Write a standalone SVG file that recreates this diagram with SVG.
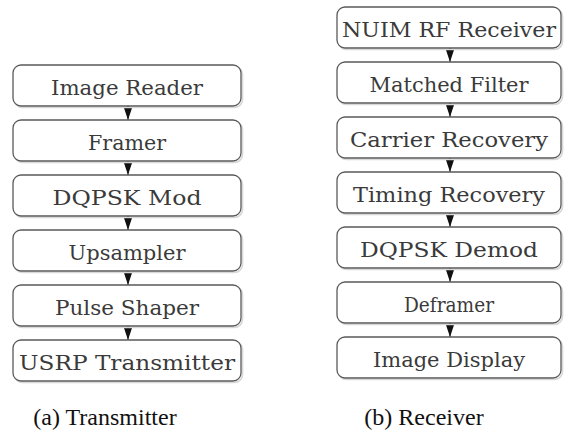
<svg xmlns="http://www.w3.org/2000/svg" width="566" height="437" viewBox="0 0 566 437">
<style>
.box{fill:#fff;stroke:#5a5a5a;stroke-width:1.3}
.sh{fill:none;stroke:#d8d8d8;stroke-width:1.6}
.lbl{font-family:"DejaVu Serif","Liberation Serif","Noto Serif",serif;font-size:20px;fill:#3a3a3a;text-anchor:middle}
.cap{font-family:"Liberation Serif","Times New Roman","DejaVu Serif",serif;font-size:24px;fill:#111;text-anchor:middle}
.con{stroke:#222;stroke-width:1;fill:none;marker-end:url(#ah)}
</style>
<defs>
<marker id="ah" viewBox="0 0 12 8" refX="12" refY="4" markerWidth="12" markerHeight="8" markerUnits="userSpaceOnUse" orient="auto">
<path d="M0,0 L12,4 L0,8 Z" fill="#111"/>
</marker>
</defs>
<rect width="566" height="437" fill="#fff"/>
<g id="connectors">
<line class="con" x1="128" y1="106" x2="128" y2="120"/>
<line class="con" x1="128" y1="161" x2="128" y2="175"/>
<line class="con" x1="128" y1="216" x2="128" y2="230"/>
<line class="con" x1="128" y1="271" x2="128" y2="285"/>
<line class="con" x1="128" y1="326" x2="128" y2="340"/>
<line class="con" x1="450" y1="48" x2="450" y2="62"/>
<line class="con" x1="450" y1="103" x2="450" y2="117"/>
<line class="con" x1="450" y1="158" x2="450" y2="172"/>
<line class="con" x1="450" y1="213" x2="450" y2="227"/>
<line class="con" x1="450" y1="268" x2="450" y2="282"/>
<line class="con" x1="450" y1="323" x2="450" y2="337"/>
</g>
<g id="image-reader"><rect class="sh" x="14.5" y="66.5" width="228" height="41" rx="8"/><rect class="box" x="13" y="65" width="228" height="41" rx="8"/><text class="lbl" x="127" y="95" textLength="152" lengthAdjust="spacingAndGlyphs">Image Reader</text></g>
<g id="framer"><rect class="sh" x="14.5" y="121.5" width="228" height="41" rx="8"/><rect class="box" x="13" y="120" width="228" height="41" rx="8"/><text class="lbl" x="127" y="150" textLength="78" lengthAdjust="spacingAndGlyphs">Framer</text></g>
<g id="dqpsk-mod"><rect class="sh" x="14.5" y="176.5" width="228" height="41" rx="8"/><rect class="box" x="13" y="175" width="228" height="41" rx="8"/><text class="lbl" x="127" y="205" textLength="149" lengthAdjust="spacingAndGlyphs">DQPSK Mod</text></g>
<g id="upsampler"><rect class="sh" x="14.5" y="231.5" width="228" height="41" rx="8"/><rect class="box" x="13" y="230" width="228" height="41" rx="8"/><text class="lbl" x="127" y="260" textLength="117" lengthAdjust="spacingAndGlyphs">Upsampler</text></g>
<g id="pulse-shaper"><rect class="sh" x="14.5" y="286.5" width="228" height="41" rx="8"/><rect class="box" x="13" y="285" width="228" height="41" rx="8"/><text class="lbl" x="127" y="315" textLength="144" lengthAdjust="spacingAndGlyphs">Pulse Shaper</text></g>
<g id="usrp-transmitter"><rect class="sh" x="14.5" y="341.5" width="228" height="41" rx="8"/><rect class="box" x="13" y="340" width="228" height="41" rx="8"/><text class="lbl" x="127" y="370" textLength="216" lengthAdjust="spacingAndGlyphs">USRP Transmitter</text></g>
<g id="nuim-rf-receiver"><rect class="sh" x="338.5" y="8.5" width="224" height="41" rx="8"/><rect class="box" x="337" y="7" width="224" height="41" rx="8"/><text class="lbl" x="449" y="37" textLength="214" lengthAdjust="spacingAndGlyphs">NUIM RF Receiver</text></g>
<g id="matched-filter"><rect class="sh" x="338.5" y="63.5" width="224" height="41" rx="8"/><rect class="box" x="337" y="62" width="224" height="41" rx="8"/><text class="lbl" x="449" y="92" textLength="159" lengthAdjust="spacingAndGlyphs">Matched Filter</text></g>
<g id="carrier-recovery"><rect class="sh" x="338.5" y="118.5" width="224" height="41" rx="8"/><rect class="box" x="337" y="117" width="224" height="41" rx="8"/><text class="lbl" x="449" y="147" textLength="198" lengthAdjust="spacingAndGlyphs">Carrier Recovery</text></g>
<g id="timing-recovery"><rect class="sh" x="338.5" y="173.5" width="224" height="41" rx="8"/><rect class="box" x="337" y="172" width="224" height="41" rx="8"/><text class="lbl" x="449" y="202" textLength="192" lengthAdjust="spacingAndGlyphs">Timing Recovery</text></g>
<g id="dqpsk-demod"><rect class="sh" x="338.5" y="228.5" width="224" height="41" rx="8"/><rect class="box" x="337" y="227" width="224" height="41" rx="8"/><text class="lbl" x="449" y="257" textLength="178" lengthAdjust="spacingAndGlyphs">DQPSK Demod</text></g>
<g id="deframer"><rect class="sh" x="338.5" y="283.5" width="224" height="41" rx="8"/><rect class="box" x="337" y="282" width="224" height="41" rx="8"/><text class="lbl" x="449" y="312" textLength="90" lengthAdjust="spacingAndGlyphs">Deframer</text></g>
<g id="image-display"><rect class="sh" x="338.5" y="338.5" width="224" height="41" rx="8"/><rect class="box" x="337" y="337" width="224" height="41" rx="8"/><text class="lbl" x="449" y="367" textLength="152" lengthAdjust="spacingAndGlyphs">Image Display</text></g>
<g id="captions">
<text class="cap" x="105" y="425">(a) Transmitter</text>
<text class="cap" x="424" y="425">(b) Receiver</text>
</g>
</svg>
